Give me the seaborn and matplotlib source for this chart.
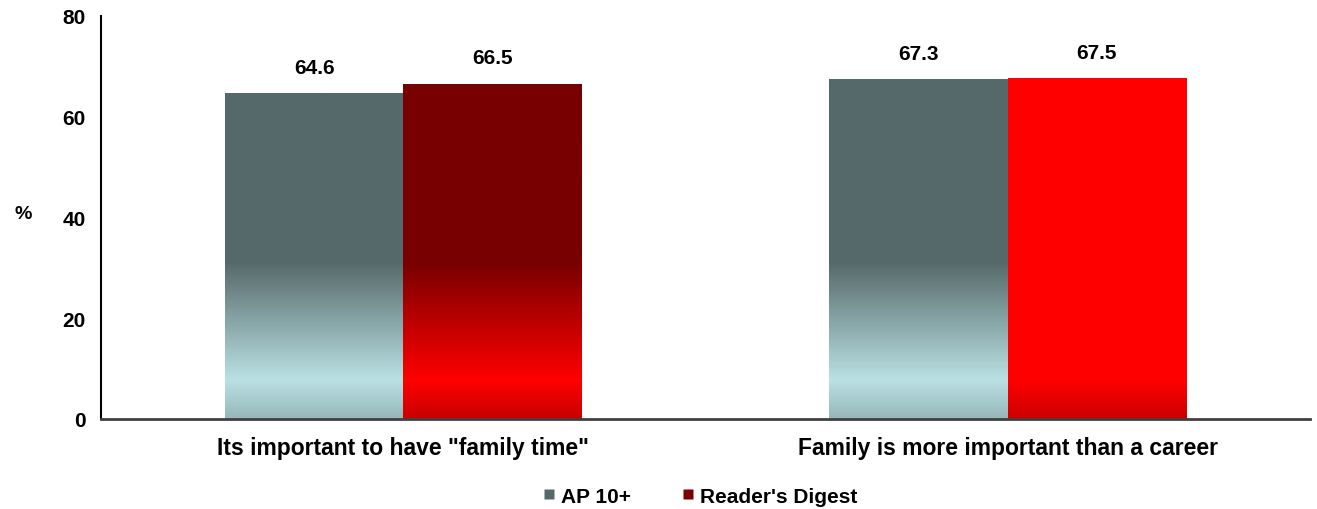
import numpy as np
import pandas as pd
import matplotlib
matplotlib.use("Agg")
import matplotlib.pyplot as plt
import seaborn as sns
from matplotlib.colors import to_rgb
from matplotlib.lines import Line2D

# Survey results (%)
categories = ['Its important to have "family time"', 'Family is more important than a career']
series = ["AP 10+", "Reader's Digest"]
ap_values = [64.6, 67.3]
rd_values = [66.5, 67.5]

sns.set_theme(style="white")
plt.rcParams["font.family"] = ["Liberation Sans", "DejaVu Sans"]
plt.rcParams["font.weight"] = "bold"
for key in ["text.color", "axes.labelcolor", "xtick.color", "ytick.color"]:
    plt.rcParams[key] = "black"

df = pd.DataFrame({
    "category": categories * 2,
    "series": [series[0]] * 2 + [series[1]] * 2,
    "value": ap_values + rd_values,
})

legend_colors = {series[0]: "#56696A", series[1]: "#780000"}

# vertical gradient stops (data value, colour) for each bar, bottom to top
gradients = {
    (series[0], 0): [(0, "#97B7B9"), (7.7, "#BAE1E4"), (31, "#56696A")],
    (series[0], 1): [(0, "#97B7B9"), (7.7, "#BAE1E4"), (31, "#56696A")],
    (series[1], 0): [(0, "#C80000"), (7.7, "#FF0000"), (31, "#780000")],
    (series[1], 1): [(0, "#CC0000"), (7.7, "#FF0000"), (31, "#FF0000")],
}

fig = plt.figure(figsize=(13.17, 5.10), dpi=100)
ax = fig.add_axes([0.0767, 0.1765, 0.9180, 0.7902])

sns.barplot(data=df, x="category", y="value", hue="series", order=categories,
            hue_order=series, palette=legend_colors, width=0.59, gap=0,
            saturation=1, ax=ax, legend=False, errorbar=None)

ax.set_ylim(0, 80)
ax.set_xlim(-0.5, 1.5)

# replace flat fills with vertical gradients
for ci, container in enumerate(ax.containers):
    name = series[ci]
    for bi, bar in enumerate(container):
        x0 = bar.get_x()
        w = bar.get_width()
        h = bar.get_height()
        stops = gradients[(name, bi)]
        ys = np.linspace(0, h, 400)
        sv = [s[0] for s in stops]
        cols = np.array([to_rgb(s[1]) for s in stops])
        img = np.stack([np.interp(ys, sv, cols[:, k]) for k in range(3)], axis=-1)
        img = img[::-1][:, None, :]
        ax.imshow(img, extent=(x0, x0 + w, 0, h), aspect="auto",
                  interpolation="bilinear", zorder=1)
        bar.set_facecolor("none")
        bar.set_edgecolor("none")
        ax.annotate(f"{h:.1f}", (x0 + w / 2, h), xytext=(0, 12),
                    textcoords="offset points", ha="center", va="bottom",
                    fontsize=15, fontweight="bold", color="black")

ax.set_xlim(-0.5, 1.5)
ax.set_ylim(0, 80)

# axes styling
for side in ["top", "right"]:
    ax.spines[side].set_visible(False)
ax.spines["left"].set_color("black")
ax.spines["left"].set_linewidth(1.5)
ax.spines["bottom"].set_color("#404040")
ax.spines["bottom"].set_linewidth(2)
ax.spines["left"].set_zorder(3)
ax.spines["bottom"].set_zorder(3)

ax.set_yticks([0, 20, 40, 60, 80])
ax.tick_params(axis="y", direction="out", length=5, width=1.2, color="black",
               labelsize=15, pad=6)
ax.tick_params(axis="x", which="major", length=0, labelsize=16.5, pad=12)
ax.set_xticks([0.5], minor=True)
ax.tick_params(axis="x", which="minor", direction="out", length=6, width=1, color="black")
for lab in ax.get_yticklabels() + ax.get_xticklabels():
    lab.set_fontweight("bold")
    lab.set_color("black")

ax.set_xlabel("")
ax.set_ylabel("%", rotation=0, fontsize=14, fontweight="bold", labelpad=0,
              va="center", ha="center")
ax.yaxis.set_label_coords(-0.064, 0.51)

handles = [Line2D([], [], marker="s", linestyle="none", markersize=7,
                  markerfacecolor=legend_colors[s], markeredgecolor="none", label=s)
           for s in series]
fig.legend(handles=handles, loc="center", bbox_to_anchor=(0.53, 0.025), ncol=2,
           frameon=False, handlelength=1.0, handletextpad=0.1, columnspacing=2.2,
           prop={"weight": "bold", "size": 15})

fig.savefig("out.png", dpi=100)
